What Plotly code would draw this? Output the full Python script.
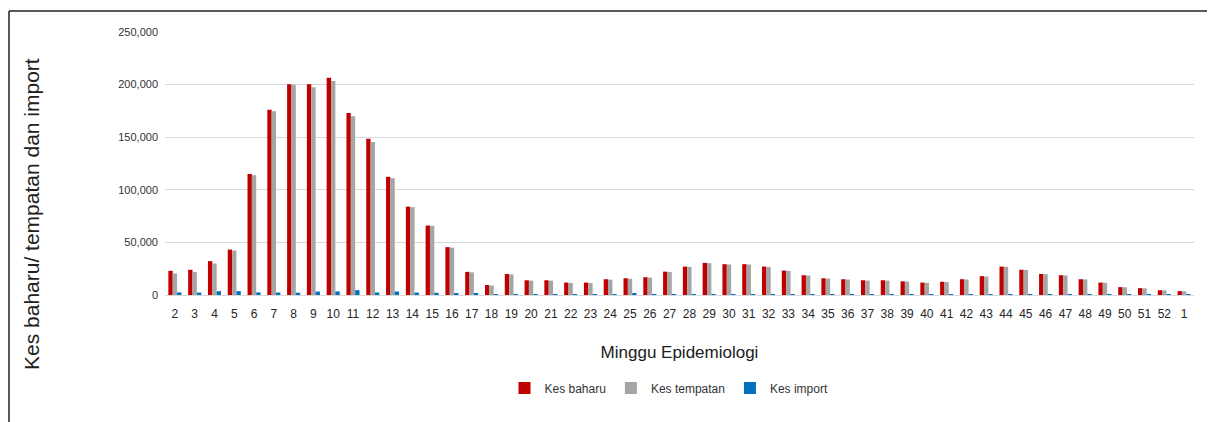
import plotly.graph_objects as go

weeks = [str(w) for w in range(2, 53)] + ["1"]

kes_baharu = [23000, 24000, 32200, 43200, 115000, 176000, 200300, 200300, 206500, 173000,
              148500, 112300, 84000, 66000, 45500, 22000, 9500, 20000, 14000, 14000,
              11800, 11800, 15000, 15900, 16900, 22200, 27000, 30500, 29300, 29300,
              27000, 23200, 18800, 15900, 15000, 14000, 14000, 13000, 11800, 12600,
              15000, 17900, 27000, 24000, 20000, 18800, 15000, 11800, 7500, 6500,
              4600, 3700]

kes_tempatan = [20500, 21800, 30000, 42300, 113900, 174700, 199600, 197400, 203400, 170000,
                145400, 111000, 83500, 65700, 45000, 21500, 9000, 19500, 13600, 13600,
                11400, 11400, 14600, 15400, 16500, 21800, 26700, 30200, 29000, 29000,
                26700, 22900, 18500, 15600, 14700, 13700, 13700, 12700, 11500, 12300,
                14700, 17600, 26800, 23800, 19800, 18600, 14800, 11600, 7300, 6300,
                4400, 3500]

kes_import = [2500, 2300, 3600, 3700, 2500, 2300, 2200, 3300, 3400, 4600,
              2400, 3300, 2300, 2100, 1900, 1100, 700, 800, 700, 700,
              600, 600, 700, 1600, 900, 800, 700, 700, 600, 600,
              600, 600, 500, 500, 500, 500, 500, 500, 500, 500,
              500, 500, 600, 500, 500, 500, 400, 400, 400, 300,
              300, 300]

series_names = ["Kes baharu", "Kes tempatan", "Kes import"]
series_colors = ["#C00000", "#A5A5A5", "#0070C0"]

fig = go.Figure()
for name, vals, col in zip(series_names, [kes_baharu, kes_tempatan, kes_import], series_colors):
    fig.add_trace(go.Bar(x=weeks, y=vals, name=name, marker=dict(color=col, line=dict(width=0))))

# page body has an 8px margin; work in reference pixel coords and offset
OFF = 8
W, H = 1215 - OFF, 422 - OFF
L = 165 - OFF
R = 21
T = 32 - OFF
B = H - (295 - OFF)
pw = W - L - R
ph = H - T - B

def px_x(x):
    return (x - OFF - L) / pw

def px_y(y):
    return (H - B - (y - OFF)) / ph

fig.update_layout(
    width=W, height=H,
    margin=dict(l=L, r=R, t=T, b=B),
    paper_bgcolor="white", plot_bgcolor="white",
    barmode="group", bargap=0.34, bargroupgap=0,
    font=dict(family="Liberation Sans, Arial, sans-serif", color="#333333"),
    showlegend=True,
    legend=dict(orientation="h", x=px_x(669), xanchor="center", y=px_y(388), yanchor="middle",
                font=dict(size=12, color="#333333"), itemwidth=30, tracegroupgap=0),
    xaxis=dict(type="category", tickfont=dict(size=12, color="#262626"),
               ticks="outside", ticklen=8, tickcolor="rgba(0,0,0,0)",
               showgrid=False, showline=False, zeroline=False,
               title=dict(text="Minggu Epidemiologi", font=dict(size=17, color="#202020"), standoff=25)),
    yaxis=dict(range=[0, 250000], tickvals=[0, 50000, 100000, 150000, 200000, 250000],
               tickformat=",d", tickfont=dict(size=11, color="#333333"),
               showgrid=True, gridcolor="#D9D9D9", gridwidth=1,
               zeroline=True, zerolinecolor="#D9D9D9", zerolinewidth=1,
               showline=False, ticklabelstandoff=6),
)

fig.add_annotation(text="Kes baharu/ tempatan dan import", xref="paper", yref="paper",
                   x=px_x(32), y=px_y(214), textangle=-90, showarrow=False,
                   font=dict(size=21, color="#202020"), xanchor="center", yanchor="middle")

# frame lines
fig.add_shape(type="line", xref="paper", yref="paper", x0=px_x(9), x1=px_x(9), y0=px_y(11), y1=px_y(440),
              line=dict(color="#222222", width=1.5))
fig.add_shape(type="line", xref="paper", yref="paper", x0=px_x(9), x1=px_x(1230), y0=px_y(11), y1=px_y(11),
              line=dict(color="#222222", width=1.5))

fig.write_html("out.html")
